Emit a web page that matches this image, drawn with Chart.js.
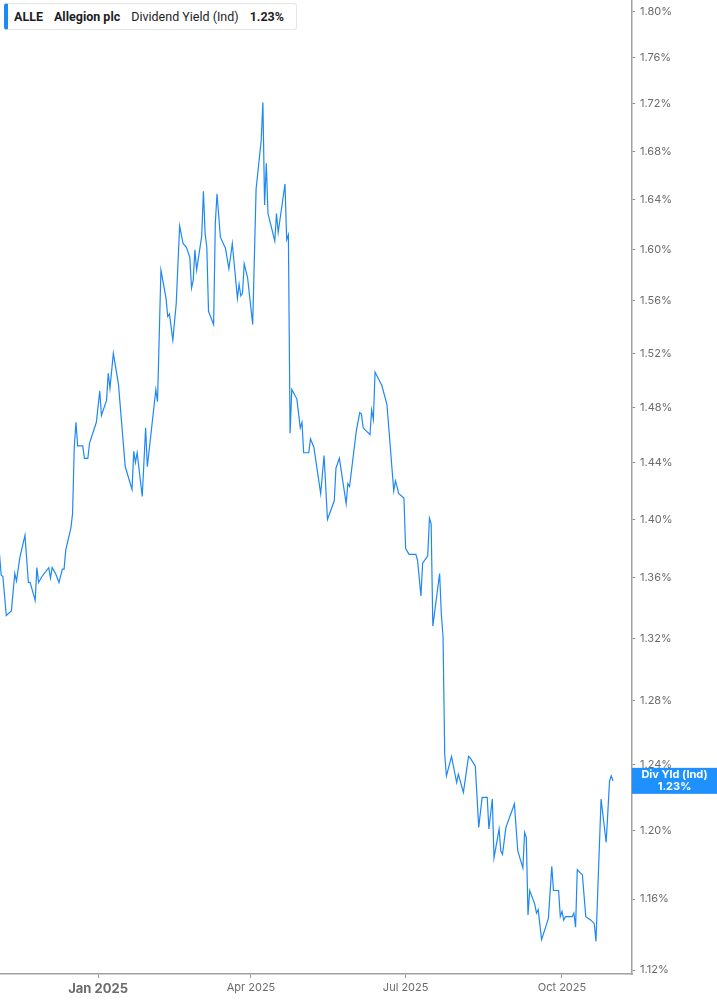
<!DOCTYPE html>
<html>
<head>
<meta charset="utf-8">
<script src="https://cdn.jsdelivr.net/npm/chart.js@4.4.1/dist/chart.umd.min.js"></script>
<style>
  html, body { margin: 0; padding: 0; background: #fff; }
  #wrap { position: relative; width: 717px; height: 1005px; }
  #legend {
    position: absolute; left: 4px; top: 3px; height: 27px; width: 293px;
    box-sizing: border-box; border: 1px solid #e4e6ea; border-left: 4px solid #1e88f5;
    border-radius: 3px; background: #fff;
    font-family: Roboto, "Noto Sans", sans-serif; font-size: 12.5px; color: #1d1d1f;
    line-height: 25px; padding-left: 6px; white-space: nowrap;
  }
  #legend b { font-weight: 700; }
  #legend span { margin-right: 11px; }
</style>
</head>
<body>
<div id="wrap">
  <canvas id="chart" width="717" height="1005"></canvas>
  <div id="legend"><span><b>ALLE</b></span><span><b>Allegion plc</b></span><span>Dividend Yield (Ind)</span><b>1.23%</b></div>
</div>
<script>
// days counted from 1 Jan 2025
const days = [
  -58, -57, -56, -54, -51, -49, -48, -46, -43, -41, -40, -37, -36, -35, -33, -29, -28, -27, -25, -23,
  -21, -20, -19, -16, -15, -14, -13, -12, -9, -8, -6, -5, -1, 1, 2, 5, 6, 7, 9, 12,
  16, 20, 21, 22, 23, 26, 28, 29, 34, 35, 37, 40, 41, 42, 44, 46, 48, 50, 52, 54,
  55, 56, 57, 58, 61, 62, 63, 64, 65, 68, 69, 70, 72, 75, 77, 79, 82, 83, 84, 85,
  86, 88, 91, 93, 94, 96, 97, 98, 99, 100, 104, 105, 106, 110, 111, 112, 113, 114, 117, 119,
  120, 121, 124, 125, 127, 131, 133, 135, 139, 140, 142, 146, 147, 148, 152, 154, 155, 156, 160, 161,
  162, 163, 167, 170, 174, 175, 177, 180, 181, 183, 187, 188, 190, 191, 194, 195, 196, 197, 201, 202,
  203, 204, 205, 208, 211, 212, 215, 218, 219, 222, 224, 226, 229, 230, 232, 233, 236, 237, 238, 240,
  245, 247, 250, 251, 252, 253, 254, 257, 258, 259, 261, 265, 267, 268, 271, 272, 273, 274, 275, 279,
  280, 281, 282, 285, 287, 290, 292, 293, 296, 299, 301, 302, 303
];
const yieldPct = [
  1.376, 1.362, 1.361, 1.335, 1.338, 1.363, 1.358, 1.374, 1.389, 1.357, 1.357, 1.345, 1.367, 1.357, 1.361, 1.367, 1.360, 1.367, 1.363, 1.357,
  1.366, 1.366, 1.379, 1.394, 1.404, 1.451, 1.469, 1.452, 1.452, 1.443, 1.443, 1.454, 1.469, 1.492, 1.474, 1.485, 1.505, 1.494, 1.520, 1.497,
  1.437, 1.421, 1.448, 1.440, 1.447, 1.416, 1.465, 1.437, 1.493, 1.484, 1.584, 1.562, 1.548, 1.550, 1.530, 1.558, 1.619, 1.605, 1.602, 1.594,
  1.570, 1.576, 1.600, 1.584, 1.611, 1.647, 1.613, 1.602, 1.552, 1.542, 1.621, 1.645, 1.610, 1.601, 1.585, 1.605, 1.562, 1.573, 1.564, 1.566,
  1.589, 1.578, 1.542, 1.649, 1.662, 1.689, 1.721, 1.636, 1.670, 1.629, 1.607, 1.629, 1.614, 1.653, 1.608, 1.612, 1.461, 1.493, 1.486, 1.465,
  1.469, 1.447, 1.447, 1.457, 1.451, 1.418, 1.445, 1.400, 1.413, 1.436, 1.443, 1.411, 1.425, 1.423, 1.463, 1.476, 1.475, 1.465, 1.460, 1.478,
  1.471, 1.506, 1.496, 1.482, 1.420, 1.427, 1.418, 1.415, 1.380, 1.376, 1.376, 1.372, 1.348, 1.370, 1.375, 1.401, 1.397, 1.328, 1.363, 1.336,
  1.321, 1.246, 1.233, 1.245, 1.229, 1.234, 1.223, 1.245, 1.244, 1.239, 1.202, 1.220, 1.220, 1.201, 1.219, 1.184, 1.201, 1.188, 1.186, 1.202,
  1.216, 1.188, 1.178, 1.199, 1.196, 1.151, 1.165, 1.157, 1.152, 1.154, 1.137, 1.149, 1.179, 1.165, 1.165, 1.150, 1.153, 1.148, 1.150, 1.150,
  1.152, 1.144, 1.177, 1.174, 1.150, 1.148, 1.146, 1.136, 1.219, 1.193, 1.230, 1.233, 1.230
];
const yTicks = [1.12, 1.16, 1.20, 1.24, 1.28, 1.32, 1.36, 1.40, 1.44, 1.48, 1.52, 1.56, 1.60, 1.64, 1.68, 1.72, 1.76, 1.80];
const xTickDays = [0, 90, 181, 273];
const xTickLabels = ['Jan 2025', 'Apr 2025', 'Jul 2025', 'Oct 2025'];
const lastValue = 1.23;

const points = days.map((d, i) => ({ x: d, y: yieldPct[i] }));

// blue value tag on the right axis
const lastTag = {
  id: 'lastTag',
  afterDraw(chart) {
    const ys = chart.scales.y;
    const c = chart.ctx;
    const y = ys.getPixelForValue(lastValue);
    c.save();
    c.fillStyle = '#1e90ff';
    c.fillRect(ys.left, y - 13, chart.width - ys.left, 26);
    c.fillStyle = '#fff';
    c.font = 'bold 11px Inter, "Noto Sans", sans-serif';
    c.textAlign = 'center';
    c.textBaseline = 'middle';
    const cx = (ys.left + chart.width) / 2;
    c.fillText('Div Yld (Ind)', cx, y - 6);
    c.fillText(lastValue.toFixed(2) + '%', cx, y + 6);
    c.restore();
  }
};

new Chart(document.getElementById('chart'), {
  type: 'line',
  data: {
    datasets: [{
      data: points,
      borderColor: '#1e88f5',
      borderWidth: 1.2,
      pointRadius: 0,
      tension: 0,
      fill: false
    }]
  },
  options: {
    responsive: false,
    animation: false,
    layout: { padding: 0 },
    plugins: { legend: { display: false }, tooltip: { enabled: false } },
    scales: {
      x: {
        type: 'linear',
        min: -57.7,
        max: 314.2,
        afterBuildTicks: s => { s.ticks = xTickDays.map(v => ({ value: v })); },
        afterFit: s => { s.height = 31; s.paddingLeft = 0; s.paddingRight = 0; },
        grid: { drawOnChartArea: false, drawTicks: true, tickLength: 4, color: '#999' },
        border: { display: true, color: '#a0a0a0', width: 1.5 },
        ticks: {
          autoSkip: false,
          maxRotation: 0,
          padding: 3,
          color: '#6b6b6b',
          font: ctx => ctx.index === 0
            ? { family: 'Inter, "Noto Sans", sans-serif', size: 13, weight: 'bold' }
            : { family: 'Inter, "Noto Sans", sans-serif', size: 11 },
          callback: (v, i) => xTickLabels[i]
        }
      },
      y: {
        type: 'logarithmic',
        position: 'right',
        min: 1.1178,
        max: 1.8107,
        afterBuildTicks: s => { s.ticks = yTicks.map(v => ({ value: v })); },
        afterFit: s => { s.width = 85; s.paddingTop = 0; s.paddingBottom = 0; },
        grid: { drawOnChartArea: false, drawTicks: true, tickLength: 3, color: '#888' },
        border: { display: true, color: '#a0a0a0', width: 1.5 },
        ticks: {
          padding: 5,
          color: '#6b6b6b',
          font: { family: 'Inter, "Noto Sans", sans-serif', size: 11 },
          callback: v => Number(v).toFixed(2) + '%'
        }
      }
    }
  },
  plugins: [lastTag]
});
</script>
</body>
</html>
